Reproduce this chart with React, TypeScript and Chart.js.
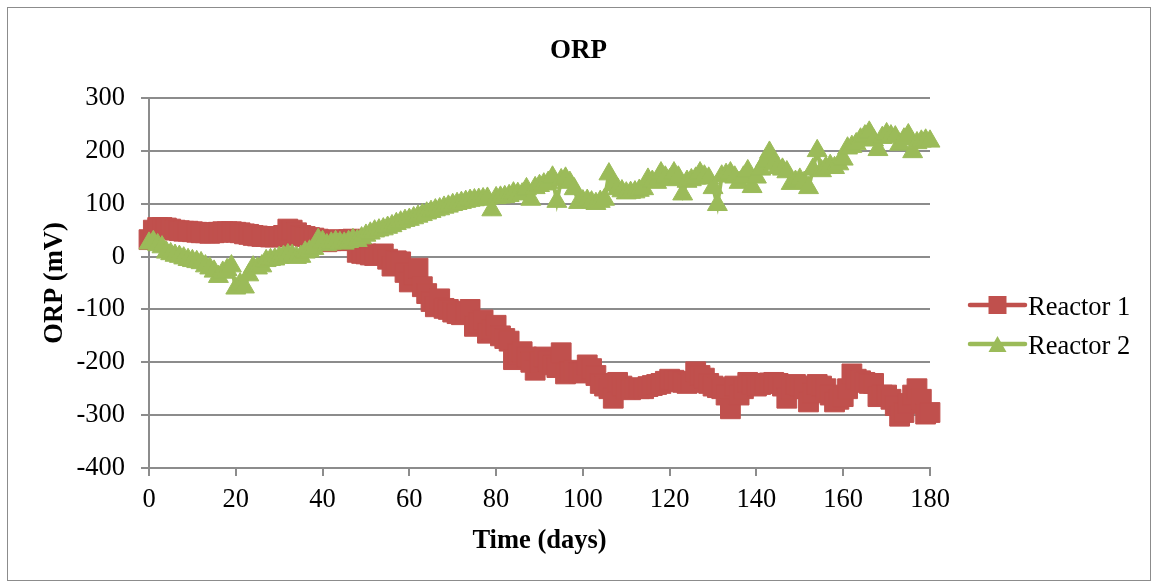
import React, { useEffect, useRef } from "react";
import { Chart, registerables } from "chart.js";

Chart.register(...registerables);

// Daily ORP readings of the two reactors (day, mV)
const reactor1Days = [
  0, 1, 2, 3, 4, 5, 6, 7, 8, 9, 10, 11, 12, 13, 14, 15, 16, 17, 18, 19, 20, 21, 22, 23, 24, 25, 26, 27, 28, 29, 30,
  31, 32, 33, 34, 35, 36, 37, 38, 39, 40, 41, 42, 43, 44, 45, 46, 47, 48, 49, 50, 51, 52, 53, 54, 55, 56, 57, 58,
  59, 60, 61, 62, 63, 64, 65, 66, 67, 68, 69, 70, 71, 72, 73, 74, 75, 76, 77, 78, 79, 80, 81, 82, 83, 84, 85, 86,
  87, 88, 89, 90, 91, 92, 93, 94, 95, 96, 97, 98, 99, 100, 101, 102, 103, 104, 105, 106, 107, 108, 109, 110, 111,
  112, 113, 114, 115, 116, 117, 118, 119, 120, 121, 122, 123, 124, 125, 126, 127, 128, 129, 130, 131, 132, 133, 134,
  135, 136, 137, 138, 139, 140, 141, 142, 143, 144, 145, 146, 147, 148, 149, 150, 151, 152, 153, 154, 155, 156, 157,
  158, 159, 160, 161, 162, 163, 164, 165, 166, 167, 168, 169, 170, 171, 172, 173, 174, 175, 176, 177, 178, 179, 180,
];
const reactor1Orp = [
  32, 50, 55, 55, 54, 52, 50, 49, 48, 48, 47, 46, 45, 45, 44, 45, 46, 47, 47, 47, 46, 45, 43, 42, 40, 39, 38, 38, 37,
  37, 38, 40, 52, 50, 45, 40, 38, 36, 35, 33, 30, 28, 30, 32, 31, 30, 32, 33, 8, 6, 5, 3, 2, 4, 5, -5, -18, -8, -10,
  -30, -48, -35, -22, -57, -70, -85, -95, -80, -98, -100, -105, -108, -110, -104, -100, -132, -125, -120, -145, -138,
  -130, -150, -155, -160, -195, -185, -180, -190, -200, -215, -200, -190, -198, -205, -210, -182, -222, -218, -215,
  -220, -220, -205, -212, -225, -240, -245, -250, -268, -238, -245, -250, -252, -248, -250, -250, -246, -244, -242,
  -240, -236, -232, -234, -236, -238, -240, -238, -218, -225, -230, -240, -245, -248, -250, -262, -288, -245, -262,
  -250, -238, -242, -245, -242, -240, -239, -238, -240, -245, -268, -250, -242, -245, -250, -275, -258, -242, -245,
  -250, -262, -275, -270, -265, -250, -222, -232, -235, -238, -240, -240, -265, -262, -262, -270, -282, -302, -295,
  -278, -262, -250, -270, -298, -295,
];

const reactor2Days = reactor1Days.slice();
const reactor2Orp = [
  25, 28, 22, 18, 8, 5, 2, 0, -3, -6, -8, -10, -12, -18, -22, -28, -38, -30, -25, -18, -60, -52, -58, -35, -20, -22,
  -18, -8, -6, -5, -2, 0, 3, 2, -2, 0, 8, 10, 15, 32, 28, 22, 25, 28, 26, 25, 28, 32, 30, 35, 40, 44, 48, 50, 52, 55,
  58, 62, 65, 68, 70, 73, 76, 79, 82, 85, 88, 90, 93, 95, 98, 100, 102, 104, 106, 107, 108, 109, 110, 88, 111, 112,
  113, 115, 120, 119, 118, 128, 108, 130, 134, 137, 140, 150, 104, 145, 148, 140, 128, 102, 105, 106, 103, 100, 104,
  108, 156, 135, 128, 124, 120, 121, 122, 125, 128, 146, 142, 140, 158, 150, 145, 158, 150, 118, 142, 145, 148, 158,
  152, 148, 130, 98, 152, 155, 158, 150, 140, 150, 162, 132, 150, 165, 180, 197, 175, 168, 165, 160, 138, 142, 146,
  140, 130, 165, 200, 162, 168, 172, 168, 175, 184, 205, 208, 213, 222, 228, 235, 220, 202, 225, 232, 228, 226, 212,
  222, 230, 198, 215, 218, 220, 218,
];

const seriesNames = ["Reactor 1", "Reactor 2"];
const seriesColors = ["#C0504D", "#9BBB59"];
const chartTitle = "ORP";
const xAxisTitle = "Time (days)";
const yAxisTitle = "ORP (mV)";
const xRange = [0, 180, 20];
const yRange = [-400, 300, 100];

const FONT = "'Liberation Serif', 'Times New Roman', serif";
const GRID = "#8c8c8c";

function toPoints(days: number[], values: number[]) {
  return days.map((d, i) => ({ x: d, y: values[i] }));
}

// Draws the centred title and the line-and-marker legend on the right.
const titleAndLegend = {
  id: "titleAndLegend",
  afterDraw(chart: any) {
    const ctx = chart.ctx as CanvasRenderingContext2D;
    const area = chart.chartArea;
    ctx.save();
    ctx.fillStyle = "#000";
    ctx.font = `bold 27px ${FONT}`;
    ctx.textAlign = "center";
    ctx.textBaseline = "alphabetic";
    ctx.fillText(chartTitle, chart.width / 2, 58);

    const x0 = area.right + 40;
    const x1 = x0 + 55;
    const xm = (x0 + x1) / 2;
    chart.data.datasets.forEach((ds: any, i: number) => {
      const y = 305 + i * 39;
      ctx.strokeStyle = ds.borderColor;
      ctx.lineWidth = 4.5;
      ctx.lineCap = "round";
      ctx.beginPath();
      ctx.moveTo(x0, y);
      ctx.lineTo(x1, y);
      ctx.stroke();
      ctx.fillStyle = ds.pointBackgroundColor;
      ctx.beginPath();
      if (ds.pointStyle === "rect") {
        ctx.rect(xm - 9, y - 9, 18, 18);
      } else {
        ctx.moveTo(xm, y - 8);
        ctx.lineTo(xm + 9, y + 8);
        ctx.lineTo(xm - 9, y + 8);
        ctx.closePath();
      }
      ctx.fill();
      ctx.fillStyle = "#000";
      ctx.font = `26.5px ${FONT}`;
      ctx.textAlign = "left";
      ctx.textBaseline = "alphabetic";
      ctx.fillText(ds.label, x1 + 3, y + 10);
    });
    ctx.restore();
  },
};

export default function App() {
  const canvasRef = useRef<HTMLCanvasElement | null>(null);

  useEffect(() => {
    if (!canvasRef.current) return;
    const chart = new Chart(canvasRef.current, {
      type: "line",
      data: {
        datasets: [
          {
            label: seriesNames[0],
            data: toPoints(reactor1Days, reactor1Orp),
            borderColor: seriesColors[0],
            backgroundColor: seriesColors[0],
            pointBackgroundColor: seriesColors[0],
            pointBorderColor: seriesColors[0],
            pointStyle: "rect",
            pointRadius: 14,
            pointBorderWidth: 1,
            borderWidth: 4,
            tension: 0,
            clip: false,
            order: 1,
          },
          {
            label: seriesNames[1],
            data: toPoints(reactor2Days, reactor2Orp),
            borderColor: seriesColors[1],
            backgroundColor: seriesColors[1],
            pointBackgroundColor: seriesColors[1],
            pointBorderColor: seriesColors[1],
            pointStyle: "triangle",
            pointRadius: 11.5,
            pointBorderWidth: 1,
            borderWidth: 4,
            tension: 0,
            clip: false,
            order: 0,
          },
        ],
      },
      options: {
        animation: false,
        responsive: false,
        layout: { padding: { top: 98, left: 20, right: 227, bottom: 20 } },
        plugins: {
          legend: { display: false },
          title: { display: false },
          tooltip: { enabled: false },
        },
        scales: {
          x: {
            type: "linear",
            min: xRange[0],
            max: xRange[1],
            ticks: { stepSize: xRange[2], color: "#000", padding: 8, font: { family: FONT, size: 26.5 } },
            grid: { drawOnChartArea: false, drawTicks: true, tickLength: 8, color: GRID, lineWidth: 2 },
            border: { color: GRID, width: 2 },
            title: {
              display: true,
              text: xAxisTitle,
              color: "#000",
              font: { family: FONT, size: 26.5, weight: "bold" },
              padding: { top: 0, bottom: 6 },
            },
            afterFit: (scale: any) => {
              scale.height = 95;
            },
          },
          y: {
            min: yRange[0],
            max: yRange[1],
            ticks: { stepSize: yRange[2], color: "#000", padding: 16, font: { family: FONT, size: 26.5 } },
            grid: { color: GRID, lineWidth: 2, tickLength: 8 },
            border: { color: GRID, width: 2 },
            title: {
              display: true,
              text: yAxisTitle,
              color: "#000",
              font: { family: FONT, size: 26.5, weight: "bold" },
              padding: { top: 19, bottom: 0 },
            },
            afterFit: (scale: any) => {
              scale.width = 129;
            },
          },
        },
      },
      plugins: [titleAndLegend],
    });
    return () => chart.destroy();
  }, []);

  return (
    <div style={{ position: "absolute", left: 0, top: 0, width: 1157, height: 583, background: "#fff" }}>
      <div
        style={{
          position: "absolute",
          left: 7,
          top: 7,
          width: 1144,
          height: 574,
          border: "1px solid #8c8c8c",
          boxSizing: "border-box",
        }}
      />
      <canvas ref={canvasRef} width={1157} height={583} style={{ position: "absolute", left: 0, top: 0 }} />
    </div>
  );
}
